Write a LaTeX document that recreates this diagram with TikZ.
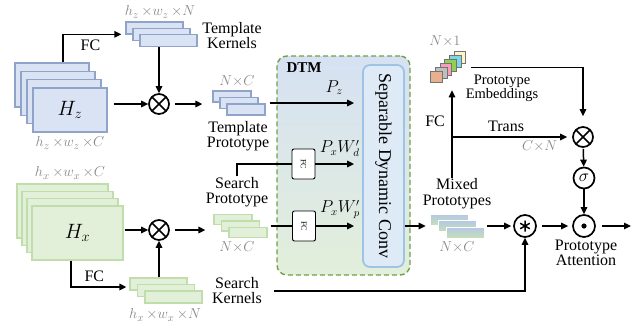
\documentclass[tikz,border=0pt]{standalone}
\usepackage{fontspec}
\setmainfont{Liberation Serif}
\usepackage{tikz}
\usetikzlibrary{shapes,arrows.meta,positioning,fit,calc}
\definecolor{zfill}{RGB}{218,227,243}
\definecolor{zedge}{RGB}{143,164,200}
\definecolor{xfill}{RGB}{226,240,217}
\definecolor{xedge}{RGB}{192,222,172}
\definecolor{dimgray}{RGB}{135,135,135}
\definecolor{dtmgreen}{RGB}{112,160,70}
\definecolor{dtmtop}{RGB}{214,225,243}
\definecolor{dtmbot}{RGB}{226,239,218}
\definecolor{convfill}{RGB}{222,235,247}
\definecolor{convedge}{RGB}{157,195,230}
\definecolor{mixtop}{RGB}{180,199,231}
\definecolor{mixbot}{RGB}{197,224,180}
\definecolor{embcream}{RGB}{255,242,204}
\definecolor{embcyan}{RGB}{125,214,232}
\definecolor{embgreen}{RGB}{146,208,80}
\definecolor{embpink}{RGB}{244,160,184}
\definecolor{embgray}{RGB}{191,191,191}
\definecolor{emborange}{RGB}{232,176,142}

\begin{document}
\begin{tikzpicture}[x=1pt, y=-1pt, font=\fontsize{16}{15}\selectfont,
    arr/.style={-{Triangle[length=7pt,width=6.5pt]}, line width=1.5pt},
    wire/.style={line width=1.5pt},
    lab/.style={align=center, inner sep=1pt},
    dim/.style={text=dimgray, font=\fontsize{15}{15}\selectfont, inner sep=1pt},
    zplate/.style={rectangle, draw=zedge, fill=zfill, line width=1.3pt},
    xplate/.style={rectangle, draw=xedge, fill=xfill, line width=1.3pt},
    op/.style={circle, draw, line width=1.7pt, minimum size=20pt, inner sep=0pt},
    otimes/.style={op, path picture={\draw[line width=1.6pt] (path picture bounding box.south west) -- (path picture bounding box.north east) (path picture bounding box.north west) -- (path picture bounding box.south east);}},
    fcbox/.style={draw, fill=white, line width=0.9pt, rounded corners=2pt, minimum width=23, minimum height=30, inner sep=0pt, font=\fontsize{8}{8}\selectfont}]
  \useasboundingbox (0,0) rectangle (641,333);

  % DTM block
  \node[draw=dtmgreen, line width=1.4pt, dash pattern=on 5pt off 3pt, rounded corners=10pt, top color=dtmtop, bottom color=dtmbot, minimum width=133, minimum height=219] (dtm) at (343.5,165.5) {};
  \node[anchor=north west, font=\fontsize{15}{15}\selectfont\bfseries, inner sep=0pt] (dtmname) at ([xshift=10pt,yshift=-7pt]dtm.north west) {DTM};
  \node[draw=convedge, fill=convfill, line width=1.8pt, rounded corners=7pt, minimum width=41, minimum height=202, inner sep=0pt] (conv) at (383.5,166) {\fontsize{18}{18}\selectfont\rotatebox{-90}{Separable Dynamic Conv}};

  % template branch
  \foreach \i in {0,...,3}
    \node[zplate, minimum width=74, minimum height=44] (hz\i) at ({52+6*\i},{85+8.3*\i}) {};
  \node[font=\fontsize{21}{21}\selectfont] at (hz3) {$H_z$};
  \node[dim] (hzdim) at (70,143) {$h_z\,{\times}w_z\,{\times}C$};
  \foreach \i in {0,1,2}
    \node[zplate, minimum width=57, minimum height=12] (tk\i) at ({154.5+7*\i},{28+6.3*\i}) {};
  \node[dim] (tkdim) at (160,12) {$h_z\,{\times}w_z\,{\times}N$};
  \node[lab] (tkl) at (232,36) {Template\\Kernels};
  \node[otimes] (otz) at (159,104) {};
  \foreach \i in {0,1,2}
    \node[zplate, minimum width=38, minimum height=11] (tp\i) at ({232+7*\i},{96.5+6.5*\i}) {};
  \node[dim] (tpdim) at (237,81) {$N{\times}C$};
  \node[lab] (tpl) at (238,136) {Template\\Prototype};

  % search branch
  \foreach \i in {0,...,3}
    \node[xplate, minimum width=91, minimum height=54] (hx\i) at ({62.5+5*\i},{211+7.3*\i}) {};
  \node[font=\fontsize{21}{21}\selectfont] at (hx3) {$H_x$};
  \node[dim] (hxdim) at (70,173) {$h_x\,{\times}w_x\,{\times}C$};
  \foreach \i in {0,1,2}
    \node[xplate, minimum width=57, minimum height=12] (sk\i) at ({158.5+7.5*\i},{284+6.5*\i}) {};
  \node[dim] (skdim) at (165,315) {$h_x\,{\times}w_x\,{\times}N$};
  \node[lab] (skl) at (237,291) {Search\\Kernels};
  \node[otimes] (otx) at (159,230) {};
  \foreach \i in {0,1,2}
    \node[xplate, minimum width=38, minimum height=10] (sp\i) at ({233+7.5*\i},{219.5+6.5*\i}) {};
  \node[dim] (spdim) at (237,247) {$N{\times}C$};
  \node[lab] (spl) at (237,192) {Search\\Prototype};
  \node[fcbox] (fc1) at (303.5,164) {\rotatebox{-90}{FC}};
  \node[fcbox] (fc2) at (304,226) {\rotatebox{-90}{FC}};

  % mixing and attention
  \foreach \i in {0,1,2}
    \node[draw=white, line width=0.6pt, top color=mixtop, bottom color=mixbot, minimum width=38, minimum height=11] (mp\i) at ({449+8*\i},{219.5+6.5*\i}) {};
  \node[dim] (mpdim) at (457,247) {$N{\times}C$};
  \node[lab, font=\fontsize{16}{16}\selectfont] (mixl) at (457,194) {Mixed\\Prototypes};
  \foreach \c [count=\i from 0] in {embcream,embcyan,embgreen,embpink,embgray,emborange}
    \node[draw=black!55, fill=\c, line width=0.8pt, minimum size=11.5, inner sep=0pt] (e\i) at ({460-4.7*\i},{57.5+3.9*\i}) {};
  \node[fit=(e0)(e5), inner sep=5pt] (emb) {};
  \node[dim] (embdim) at (445,41) {$N{\times}1$};
  \node[lab, font=\fontsize{14.5}{14}\selectfont] (embl) at (502,88) {Prototype\\Embeddings};
  \node[op, minimum size=22pt, path picture={\draw[line width=1.5pt] (path picture bounding box.center) +(90:5.5pt) -- +(270:5.5pt) +(30:5.5pt) -- +(210:5.5pt) +(150:5.5pt) -- +(330:5.5pt);}] (cast) at (525,226) {};
  \node[op, minimum size=22pt, path picture={\fill (path picture bounding box.center) circle (2.6pt);}] (odot) at (584,226) {};
  \node[op, minimum size=21pt, font=\fontsize{17}{17}\selectfont] (sig) at (584,178) {$\sigma$};
  \node[otimes] (oto) at (583,137) {};
  \node[lab, font=\fontsize{16}{13.5}\selectfont] (attl) at (586,253) {Prototype\\Attention};
  \coordinate (out) at (631,226);
  \coordinate (fcb) at ([xshift=-5pt]mixl.north);

  % connectors, template branch
  \draw[arr, shorten >=4pt] ([xshift=11pt]hz0.north) |- (tk1.west -| tk0.west) node[pos=0.72, below=2pt] {FC};
  \draw[arr] (tk2.south -| otz) -- (otz);
  \draw[arr, shorten <=6pt] (hz3.east |- otz) -- (otz);
  \draw[arr, shorten <=5pt, shorten >=10pt] (otz) -- (otz -| tp0.west);

  % connectors, search branch
  \draw[arr, shorten >=3pt] ([xshift=-6.5pt]hx3.south) |- ([yshift=-3pt]sk0.west) node[pos=0.7, above=1pt] {FC};
  \draw[arr] (sk0.north -| otx) -- (otx);
  \draw[arr, shorten <=1pt] (hx3.east |- otx) -- (otx);
  \draw[arr, shorten <=5pt, shorten >=8pt] (otx) -- (otx -| sp0.west);

  % connectors, DTM
  \draw[arr, shorten <=4pt, shorten >=8pt] (tp1.east -| tp2.east) -- (tp1.east -| conv.west) node[pos=0.71, above=4pt] {$P_z$};
  \draw[wire] (spl.north) |- (fc1.west);
  \draw[arr, shorten >=8pt] (fc1.east) -- (fc1.east -| conv.west) node[pos=0.52, above=3pt] {$P_xW'_d$};
  \draw[wire, shorten <=3pt] (sp1.east -| sp2.east) -- (fc2.west);
  \draw[arr, shorten >=8pt] (fc2.east) -- (fc2.east -| conv.west) node[pos=0.52, above=3pt] {$P_xW'_p$};

  % connectors, right part
  \draw[arr, shorten >=4pt] (conv.east |- mp1.west) -- (mp1.west -| mp0.west);
  \draw[arr, shorten <=3pt, shorten >=2pt] (mp1.east -| mp2.east) -- (cast);
  \draw[arr, shorten <=5pt, shorten >=4pt] (cast) -- (odot);
  \draw[arr, shorten <=6pt] (odot) -- (out);
  \draw[arr, shorten <=11pt] (skl.east) -| (cast);
  \draw[arr, shorten >=2pt] (fcb) -- (fcb |- emb.south) node[pos=0.63, left=3pt] {FC};
  \draw[arr, shorten >=5pt] (fcb |- oto) -- (oto) node[pos=0.45, above=1pt] {Trans} node[pos=0.73, below=2pt, dim] {$C{\times}N$};
  \draw[arr, shorten >=10pt] (emb.east) -| (oto);
  \draw[arr, shorten <=1pt] (oto) -- (sig);
  \draw[arr] (sig) -- (odot);
\end{tikzpicture}
\end{document}
